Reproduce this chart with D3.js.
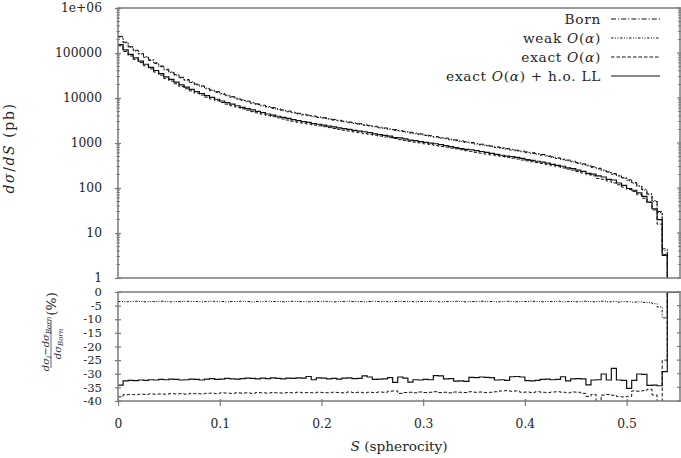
<!DOCTYPE html>
<html><head><meta charset="utf-8">
<script src="https://cdn.jsdelivr.net/npm/d3@7"></script>
<style>
body{margin:0;background:#fff}
text{font-family:"DejaVu Serif","Liberation Serif",serif;fill:#262626}
</style></head>
<body><svg id="c" width="681" height="458"></svg>
<script>
// ---------- data ----------
const binWidth = 0.005;
const nBins = 108;
const binEdges = d3.range(nBins + 1).map(k => +(k * binWidth).toFixed(3));

// Born cross section dσ/dS (pb) per bin
const bornXsec = [234000,174000,138000,115000,97700,83200,70800,60300,51300,43600,
38000,33100,28800,25700,22900,20400,18600,16600,15100,13800,
12600,11600,10700,9890,9120,8510,7940,7410,6920,6460,
6100,5750,5430,5130,4840,4570,4370,4170,3980,3810,
3650,3490,3340,3200,3060,2930,2810,2690,2570,2460,
2360,2250,2160,2070,1980,1890,1810,1730,1660,1590,
1520,1460,1390,1330,1280,1220,1170,1120,1070,1030,
982,940,899,861,824,789,755,723,692,662,
634,607,581,556,525,495,468,442,417,394,
367,343,320,299,275,251,229,209,191,170,
151,132,112,93.3,74.1,52.5,30.2,4.47];

// relative corrections (%) w.r.t. Born, per bin
const weakPct = [-3.5,-3.6,-3.5,-3.4,-3.5,-3.6,-3.5,-3.5,-3.4,-3.5,
-3.6,-3.5,-3.5,-3.4,-3.5,-3.5,-3.6,-3.5,-3.4,-3.5,
-3.5,-3.6,-3.5,-3.5,-3.4,-3.5,-3.6,-3.5,-3.5,-3.4,
-3.5,-3.5,-3.6,-3.5,-3.4,-3.5,-3.5,-3.6,-3.5,-3.5,
-3.4,-3.5,-3.6,-3.5,-3.5,-3.4,-3.5,-3.5,-3.6,-3.5,
-3.4,-3.5,-3.5,-3.6,-3.5,-3.4,-3.5,-3.5,-3.6,-3.5,
-3.5,-3.4,-3.5,-3.6,-3.5,-3.5,-3.4,-3.5,-3.6,-3.5,
-3.5,-3.4,-3.5,-3.5,-3.6,-3.5,-3.4,-3.5,-3.6,-3.5,
-3.5,-3.4,-3.5,-3.6,-3.5,-3.5,-3.4,-3.6,-3.5,-3.5,
-3.6,-3.4,-3.5,-3.6,-3.5,-3.4,-3.6,-3.5,-3.7,-3.5,
-3.6,-3.7,-3.6,-3.8,-3.9,-4.3,-5.5,-9.5];

const exactPct = [-38.5,-37.7,-37.6,-37.7,-37.5,-37.6,-37.4,-37.5,-37.4,-37.5,
-37.3,-37.4,-37.3,-37.5,-37.2,-37.3,-37.4,-37.2,-37.1,-37.3,
-37.0,-37.1,-37.2,-37.0,-37.1,-37.0,-37.2,-36.9,-37.0,-37.1,
-36.9,-37.0,-37.1,-36.9,-37.0,-36.8,-37.0,-36.9,-37.0,-36.8,
-36.9,-37.0,-36.8,-36.9,-37.0,-36.7,-36.9,-36.8,-37.0,-36.8,
-36.9,-36.7,-36.8,-36.4,-36.3,-37.2,-36.9,-36.8,-37.0,-36.7,
-36.9,-36.8,-36.6,-36.9,-36.8,-37.0,-36.7,-36.8,-36.9,-36.6,
-36.8,-36.7,-36.9,-36.8,-36.6,-36.3,-36.2,-36.4,-36.3,-36.8,
-36.7,-36.9,-36.6,-36.8,-36.9,-36.7,-36.6,-36.8,-37.0,-36.7,
-36.8,-37.2,-38.3,-37.6,-40.5,-37.8,-37.6,-37.9,-38.4,-38.5,
-38.3,-36.3,-36.4,-36.2,-35.7,-37.8,-48.0,-25.0];

const hollPct = [-34.2,-32.6,-32.4,-32.5,-32.3,-32.4,-32.2,-32.3,-32.1,-32.2,
-32.0,-32.1,-32.3,-32.2,-32.0,-32.1,-32.3,-32.0,-31.8,-32.1,
-32.0,-31.7,-31.9,-32.0,-31.8,-31.6,-31.7,-31.9,-31.6,-31.8,
-31.5,-31.7,-31.9,-31.6,-31.7,-31.5,-31.6,-31.0,-32.2,-31.5,
-31.6,-31.9,-31.7,-32.0,-31.6,-31.5,-31.8,-31.7,-30.8,-31.2,
-32.1,-32.0,-31.9,-31.4,-33.2,-31.2,-31.6,-33.1,-32.2,-32.3,
-32.1,-32.2,-30.7,-30.8,-31.9,-31.8,-32.7,-32.6,-32.8,-31.3,
-31.4,-31.2,-31.3,-31.4,-32.3,-32.2,-32.4,-31.1,-31.0,-31.2,
-32.5,-32.6,-32.4,-32.1,-32.0,-32.2,-32.1,-31.1,-32.6,-31.9,
-31.8,-31.9,-34.1,-32.3,-32.2,-30.1,-32.3,-28.0,-32.3,-32.4,
-35.4,-32.4,-30.1,-30.2,-34.3,-34.2,-34.4,-29.2];

const seriesNames = ["Born", "weak O(α)", "exact O(α)", "exact O(α) + h.o. LL"];
const xTicks = [0, 0.1, 0.2, 0.3, 0.4, 0.5];
const xTickLabels = ["0", "0.1", "0.2", "0.3", "0.4", "0.5"];
const yTopTicks = [1, 10, 100, 1000, 10000, 100000, 1000000];
const yTopTickLabels = ["1", "10", "100", "1000", "10000", "100000", "1e+06"];
const yBotTicks = [0, -5, -10, -15, -20, -25, -30, -35, -40];
const yBotTickLabels = ["0", "-5", "-10", "-15", "-20", "-25", "-30", "-35", "-40"];

// ---------- layout ----------
const X0 = 118, X1 = 680, T0 = 8, T1 = 278, B0 = 292, B1 = 401;
const FRAME = "#7a7a7a", INK = "#262626", LINE = "#111";
const FS = 12.3, FSB = 11.6, FSL = 13.7;

const svg = d3.select("#c");
const x = d3.scaleLinear().domain([0, 0.5525]).range([X0, X1]);
const yTop = d3.scaleLog().domain([1, 1e6]).range([T1, T0]);
const yBot = d3.scaleLinear().domain([-40, 0]).range([B1, B0]);

const styles = [
  {dash: "5,2,1.2,2", w: 1},
  {dash: "2.5,1.5,1,1.5,1,1.5", w: 1},
  {dash: "3.5,2", w: 1},
  {dash: null, w: 1.2}
];

const pctSeries = [null, weakPct, exactPct, hollPct];
const topValues = pctSeries.map(p => p === null ? bornXsec : bornXsec.map((b, i) => b * (1 + p[i] / 100)));

// clip paths
const defs = svg.append("defs");
defs.append("clipPath").attr("id", "clipT").append("rect")
  .attr("x", X0).attr("y", T0).attr("width", X1 - X0).attr("height", T1 - T0);
defs.append("clipPath").attr("id", "clipB").append("rect")
  .attr("x", X0).attr("y", B0).attr("width", X1 - X0).attr("height", B1 - B0);

const stepTop = d3.line().x(d => x(d[0])).y(d => yTop(d[1])).curve(d3.curveStepAfter);
const stepBot = d3.line().x(d => x(d[0])).y(d => yBot(d[1])).curve(d3.curveStepAfter);

// top histograms
const gT = svg.append("g").attr("clip-path", "url(#clipT)");
topValues.forEach((vals, s) => {
  const pts = vals.map((v, i) => [binEdges[i], v]);
  pts.push([binEdges[nBins], vals[nBins - 1]]);
  pts.push([binEdges[nBins], 1]);
  gT.append("path").attr("d", stepTop(pts)).attr("fill", "none")
    .attr("stroke", LINE).attr("stroke-width", styles[s].w)
    .attr("stroke-dasharray", styles[s].dash);
});

// bottom ratio histograms
const gB = svg.append("g").attr("clip-path", "url(#clipB)");
[1, 2, 3].forEach(s => {
  const p = pctSeries[s];
  const pts = p.map((v, i) => [binEdges[i], v]);
  pts.push([binEdges[nBins], p[nBins - 1]]);
  pts.push([binEdges[nBins], 0]);
  pts.push([x.domain()[1], 0]);
  gB.append("path").attr("d", stepBot(pts)).attr("fill", "none")
    .attr("stroke", LINE).attr("stroke-width", styles[s].w)
    .attr("stroke-dasharray", styles[s].dash);
});

// axes: top panel left
const axL = svg.append("g").attr("transform", `translate(${X0},0)`)
  .call(d3.axisLeft(yTop).tickValues(yTopTicks).tickFormat((d, i) => yTopTickLabels[i]).tickSize(3).tickPadding(13));
axL.select(".domain").remove();
axL.selectAll(".tick line").attr("x1", 3).attr("stroke", FRAME).attr("stroke-width", 1.2);
axL.selectAll("text").attr("font-size", FS).attr("fill", INK).attr("font-family", null);

// minor log ticks
const minorVals = [];
for (let e = 0; e < 6; e++) for (let m = 2; m <= 9; m++) minorVals.push(m * Math.pow(10, e));
svg.append("g").selectAll("line").data(minorVals).join("line")
  .attr("x1", X0 - 1.5).attr("x2", X0 + 2).attr("y1", d => yTop(d)).attr("y2", d => yTop(d))
  .attr("stroke", FRAME).attr("stroke-width", 1);
svg.append("g").selectAll("line").data(minorVals).join("line")
  .attr("x1", X1 - 2).attr("x2", X1 + 1.5).attr("y1", d => yTop(d)).attr("y2", d => yTop(d))
  .attr("stroke", FRAME).attr("stroke-width", 1);
svg.append("g").selectAll("line").data(yTopTicks).join("line")
  .attr("x1", X1 - 3).attr("x2", X1 + 3).attr("y1", d => yTop(d)).attr("y2", d => yTop(d))
  .attr("stroke", FRAME).attr("stroke-width", 1.2);

// bottom panel left
const axBL = svg.append("g").attr("transform", `translate(${X0},0)`)
  .call(d3.axisLeft(yBot).tickValues(yBotTicks).tickFormat((d, i) => yBotTickLabels[i]).tickSize(3).tickPadding(13));
axBL.select(".domain").remove();
axBL.selectAll(".tick line").attr("x1", 3).attr("stroke", FRAME).attr("stroke-width", 1.2);
axBL.selectAll("text").attr("font-size", FSB).attr("fill", INK).attr("font-family", null);
svg.append("g").selectAll("line").data(yBotTicks).join("line")
  .attr("x1", X1 - 3).attr("x2", X1 + 3).attr("y1", d => yBot(d)).attr("y2", d => yBot(d))
  .attr("stroke", FRAME).attr("stroke-width", 1.2);

// bottom x axis
const axX = svg.append("g").attr("transform", `translate(0,${B1})`)
  .call(d3.axisBottom(x).tickValues(xTicks).tickFormat((d, i) => xTickLabels[i]).tickSize(5).tickPadding(13));
axX.select(".domain").remove();
axX.selectAll(".tick line").attr("y1", -2).attr("stroke", FRAME).attr("stroke-width", 1.2);
axX.selectAll("text").attr("font-size", FS).attr("fill", INK).attr("font-family", null);

// frames
svg.append("rect").attr("x", X0).attr("y", T0).attr("width", X1 - X0).attr("height", T1 - T0)
  .attr("fill", "none").attr("stroke", FRAME).attr("stroke-width", 1.5);
svg.append("rect").attr("x", X0).attr("y", B0).attr("width", X1 - X0).attr("height", B1 - B0)
  .attr("fill", "none").attr("stroke", FRAME).attr("stroke-width", 1.5);

// legend
const legY = [24, 43, 62, 81];
seriesNames.forEach((name, i) => {
  const t = svg.append("text").attr("x", 601).attr("y", legY[i]).attr("text-anchor", "end")
    .attr("font-size", FSL).attr("letter-spacing", 0.7);
  if (i === 0) { t.text(name); }
  else {
    const pre = name.startsWith("weak") ? "weak " : "exact ";
    t.append("tspan").text(pre);
    t.append("tspan").attr("font-style", "italic").text("O");
    t.append("tspan").text("(");
    t.append("tspan").attr("font-style", "italic").text("α");
    t.append("tspan").text(")");
    if (i === 3) t.append("tspan").text(" + h.o. LL");
  }
  svg.append("line").attr("x1", 611).attr("x2", 660).attr("y1", legY[i] - 5).attr("y2", legY[i] - 5)
    .attr("stroke", LINE).attr("stroke-width", styles[i].w).attr("stroke-dasharray", styles[i].dash);
});

// y label top
const yl = svg.append("text").attr("transform", "translate(14,148) rotate(-90)")
  .attr("text-anchor", "middle").attr("font-size", 14).attr("letter-spacing", 1.6);
yl.append("tspan").attr("font-style", "italic").text("dσ");
yl.append("tspan").text("/");
yl.append("tspan").attr("font-style", "italic").text("dS");
yl.append("tspan").text(" (pb)");

// y label bottom (fraction)
const gf = svg.append("g").attr("transform", "translate(51,344) rotate(-90)");
const num = gf.append("text").attr("x", 0).attr("y", -2.5).attr("text-anchor", "middle").attr("font-size", 10);
num.append("tspan").attr("font-style", "italic").text("dσ");
num.append("tspan").attr("font-style", "italic").attr("font-size", 7).attr("dy", 2).text("i");
num.append("tspan").attr("dy", -2).text("−");
num.append("tspan").attr("font-style", "italic").text("dσ");
num.append("tspan").attr("font-style", "italic").attr("font-size", 7).attr("dy", 2).text("Born");
gf.append("line").attr("x1", -24).attr("x2", 24).attr("y1", 0).attr("y2", 0).attr("stroke", INK).attr("stroke-width", 0.7);
const den = gf.append("text").attr("x", 0).attr("y", 9.5).attr("text-anchor", "middle").attr("font-size", 10);
den.append("tspan").attr("font-style", "italic").text("dσ");
den.append("tspan").attr("font-style", "italic").attr("font-size", 7).attr("dy", 2).text("Born");
gf.append("text").attr("x", 40).attr("y", 5).attr("text-anchor", "middle").attr("font-size", FSL).text("(%)");

// x label
const xl = svg.append("text").attr("x", 399).attr("y", 451).attr("text-anchor", "middle")
  .attr("font-size", FSL);
xl.append("tspan").attr("font-style", "italic").text("S");
xl.append("tspan").text(" (spherocity)");
</script></body></html>
